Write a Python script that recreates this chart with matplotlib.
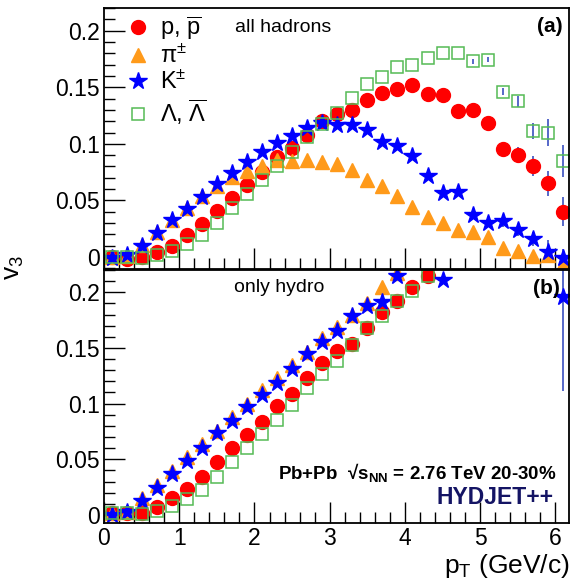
import numpy as np
import matplotlib
matplotlib.use('Agg')
import matplotlib.pyplot as plt
from matplotlib.ticker import MultipleLocator, FuncFormatter
from matplotlib.lines import Line2D

plt.rcParams['font.family'] = ['Liberation Sans', 'DejaVu Sans']
plt.rcParams['mathtext.fontset'] = 'custom'
plt.rcParams['mathtext.rm'] = 'Liberation Sans'
plt.rcParams['mathtext.it'] = 'Liberation Sans:italic'
plt.rcParams['mathtext.bf'] = 'Liberation Sans:bold'

nan = np.nan

# pT bin centres (GeV/c)
pt = [0.1, 0.3, 0.5, 0.7, 0.9, 1.1, 1.3, 1.5, 1.7, 1.9, 2.1, 2.3, 2.5, 2.7, 2.9,
      3.1, 3.3, 3.5, 3.7, 3.9, 4.1, 4.3, 4.5, 4.7, 4.9, 5.1, 5.3, 5.5, 5.7, 5.9, 6.1]

# (a) all hadrons
v3_p_all = [0.000, -0.002, 0.000, 0.004, 0.010, 0.0195, 0.029, 0.0405, 0.0525, 0.064, 0.0755,
            0.088, 0.096, 0.108, 0.120, 0.126, 0.130, 0.139, 0.145, 0.148, 0.152, 0.144,
            0.143, 0.129, 0.130, 0.118, 0.095, 0.090, 0.0805, 0.065, 0.040]
v3_pi_all = [0.000, 0.001, 0.011, 0.022, 0.0325, 0.043, 0.054, 0.063, 0.0705, 0.076, 0.080,
             0.0855, 0.085, 0.086, 0.084, 0.082, 0.077, 0.068, 0.063, 0.054, 0.0445, 0.035,
             0.030, 0.024, 0.022, 0.0175, 0.008, 0.005, 0.001, 0.002, -0.0065]
v3_K_all = [-0.001, 0.002, 0.0097, 0.021, 0.0327, 0.042, 0.0534, 0.0646, 0.0746, 0.0843, 0.093,
            0.1006, 0.107, 0.1144, 0.118, 0.1168, 0.1168, 0.1124, 0.1015, 0.0985, 0.0894, 0.072,
            0.0564, 0.0572, 0.0372, 0.0298, 0.0319, 0.0239, 0.0157, 0.0047, -0.001]
v3_L_all = [0.000, 0.000, -0.001, 0.002, 0.0056, 0.0115, 0.0195, 0.030, 0.043, 0.0555, 0.068,
            0.080, 0.0926, 0.1056, 0.1177, 0.127, 0.1404, 0.1528, 0.159, 0.1675, 0.170, 0.1758,
            0.180, 0.180, 0.1728, 0.1743, 0.146, 0.1374, 0.111, 0.110, 0.085]

err_p_all = [0] * 24 + [0.002, 0.003, 0.006, 0.007, 0.009, 0.011, 0.013]
err_pi_all = [0] * 27 + [0.002, 0.003, 0.005, 0.006]
err_K_all = [0] * 23 + [0.002, 0.003, 0.003, 0.005, 0.005, 0.006, 0.010, 0.008]
err_L_all = [0] * 24 + [0.002, 0.002, 0.003, 0.005, 0.007, 0.012, 0.014]

# (b) only hydro
v3_p_hyd = [0.002, 0.0015, 0.0015, 0.0075, 0.015, 0.023, 0.0344, 0.0473, 0.060, 0.0718, 0.0838,
            0.098, 0.109, 0.1227, 0.1367, 0.1475, 0.1535, 0.168, 0.1825, 0.1924, 0.205, 0.2145,
            nan, nan, nan, nan, nan, nan, nan, nan, nan]
v3_pi_hyd = [0.002, 0.003, 0.0155, 0.027, 0.0398, 0.0523, 0.0637, 0.0754, 0.088, 0.100, 0.112,
             0.123, 0.1346, 0.1466, 0.1586, 0.169, 0.180, 0.1906, 0.205, 0.217,
             nan, nan, nan, nan, nan, nan, nan, nan, nan, nan, nan]
v3_K_hyd = [0.000, 0.0024, 0.0128, 0.0245, 0.0365, 0.0485, 0.060, 0.0733, 0.0847, 0.0972, 0.1077,
            0.1188, 0.1308, 0.145, 0.1556, 0.165, 0.1786, 0.1876, 0.191, 0.2145,
            nan, nan, 0.211, nan, nan, nan, nan, nan, nan, nan, 0.196]
v3_L_hyd = [0.0015, 0.002, 0.0006, 0.004, 0.008, 0.014, 0.0224, 0.0344, 0.0473, 0.060, 0.0727,
            0.0853, 0.0987, 0.1137, 0.127, 0.138, 0.153, 0.168, 0.1786, 0.192, 0.201, 0.2145,
            nan, nan, nan, nan, nan, nan, nan, nan, nan]
err_K_hyd = [0] * 30 + [0.085]

labels = [r'p, $\overline{\mathrm{p}}$', r'$\mathrm{\pi}^{\pm}$', r'K$^{\pm}$',
          r'$\Lambda$, $\overline{\Lambda}$']

red = '#ff0000'
orange = '#ff9a1a'
blue = '#0000ff'
green = '#55bb55'
ecol = '#3a4fc0'

styles = [dict(marker='o', ms=10, mfc=red, mec=red),
          dict(marker='^', ms=10, mfc=orange, mec=orange),
          dict(marker='*', ms=13, mfc=blue, mec=blue),
          dict(marker='s', ms=8.5, mfc='none', mec=green, mew=1.1)]

W, H = 572, 588
fig = plt.figure(figsize=(W / 100, H / 100), dpi=100)
ax1 = fig.add_axes([104 / W, 1 - 269 / H, 465 / W, 261 / H])
ax2 = fig.add_axes([104 / W, 1 - 523 / H, 465 / W, 253 / H])


def draw(ax, series, errs):
    for y, e, st in zip(series, errs, styles):
        ax.errorbar(pt, y, yerr=e, ls='none', ecolor=ecol, elinewidth=1.2, capsize=0, **st)


draw(ax1, [v3_p_all, v3_pi_all, v3_K_all, v3_L_all],
     [err_p_all, err_pi_all, err_K_all, err_L_all])
draw(ax2, [v3_p_hyd, v3_pi_hyd, v3_K_hyd, v3_L_hyd], [None, None, err_K_hyd, None])

fmt = FuncFormatter(lambda v, _: f'{v:g}' if abs(v) > 1e-9 else '0')
for ax, ylo in [(ax1, -0.0106), (ax2, -0.0072)]:
    ax.set_xlim(0, 6.18)
    ax.set_ylim(ylo, 0.220)
    ax.xaxis.set_major_locator(MultipleLocator(1))
    ax.xaxis.set_minor_locator(MultipleLocator(0.2))
    ax.yaxis.set_major_locator(MultipleLocator(0.05))
    ax.yaxis.set_minor_locator(MultipleLocator(0.01))
    ax.yaxis.set_major_formatter(fmt)
    ax.tick_params(which='both', direction='in', top=False, right=False,
                   labelsize=16.5, width=1, pad=3)
    ax.tick_params(which='major', length=15)
    ax.tick_params(which='minor', length=8)
    for s in ax.spines.values():
        s.set_linewidth(1.3)
ax1.tick_params(labelbottom=False)

handles = [Line2D([], [], ls='none', **st) for st in styles]
ax1.legend(handles, labels, loc='upper left', bbox_to_anchor=(126 / W, 1 - 14 / H),
           bbox_transform=fig.transFigure, frameon=False, fontsize=17,
           handlelength=1.0, handletextpad=0.45, labelspacing=0.12, borderpad=0,
           borderaxespad=0)

fig.text(235 / W, 1 - 28 / H, 'all hadrons', fontsize=14, va='center')
fig.text(563 / W, 1 - 27 / H, '(a)', fontsize=15, fontweight='bold', ha='right', va='center')
fig.text(234 / W, 1 - 288 / H, 'only hydro', fontsize=14, va='center')
fig.text(560 / W, 1 - 288 / H, '(b)', fontsize=15, fontweight='bold', ha='right', va='center')
fig.text(557 / W, 1 - 473 / H, 'Pb+Pb  \u221a' + r'$\mathbf{s}_{\mathbf{NN}}$' + ' = 2.76 TeV 20-30%',
         fontsize=13.5, fontweight='bold', ha='right', va='center')
fig.text(553 / W, 1 - 497 / H, 'HYDJET++', fontsize=16.5, fontweight='bold',
         color='#141464', ha='right', va='center')

fig.text(14 / W, 1 - 268 / H, r'v$_3$', fontsize=19, rotation=90, ha='center', va='center')
fig.text(570 / W, 1 - 566 / H, r'p$_\mathrm{T}$ (GeV/c)', fontsize=19, ha='right', va='center')

fig.savefig('out.png', dpi=100)
